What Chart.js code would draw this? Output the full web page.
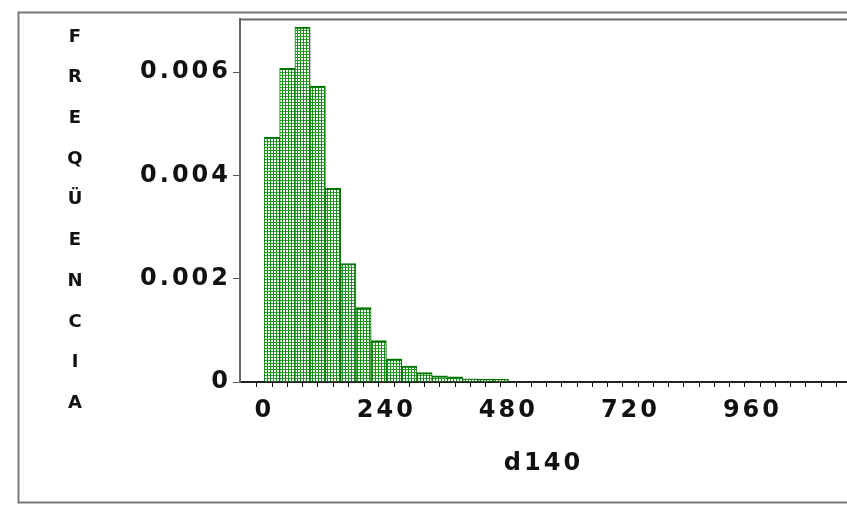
<!DOCTYPE html>
<html><head><meta charset="utf-8">
<script src="https://cdn.jsdelivr.net/npm/chart.js@4.4.1/dist/chart.umd.min.js"></script>
<style>html,body{margin:0;padding:0;background:#fff;overflow:hidden}#wrap{width:847px;height:505px;position:relative}</style>
</head><body><div id="wrap"><canvas id="c" width="847" height="505"></canvas></div>
<script>
// ---- data ----
const binStarts = [0,30,60,90,120,150,180,210,240,270,300,330,360,390,420,450];
const binWidth = 30;
const frequencies = [0.00474,0.00607,0.00687,0.00573,0.00375,0.00229,0.00144,0.00080,0.00045,0.00031,0.00018,0.00012,0.00010,0.00006,0.00005,0.00005];
const xTickLabels = [0,240,480,720,960];
const yTickLabels = [0,0.002,0.004,0.006];
const xTitle = 'd140';
const yTitle = 'FREQÜENCIA';

const ctx = document.getElementById('c').getContext('2d');

function makePattern(c){
  const p = document.createElement('canvas'); p.width = 3; p.height = 3;
  const g = p.getContext('2d');
  g.fillStyle = '#ffffff'; g.fillRect(0,0,3,3);
  g.fillStyle = '#168c16'; g.fillRect(0,0,1,3);
  g.fillStyle = '#2f9e2f'; g.fillRect(1,0,2,1);
  return c.createPattern(p,'repeat');
}

const fontMain = {family:'"DejaVu Sans", sans-serif', size:24, weight:'bold'};

const spacingPlugin = {
  id:'spacing',
  beforeLayout(chart){ chart.ctx.letterSpacing = '3px'; },
  beforeDraw(chart){ chart.ctx.letterSpacing = '3px'; },
};

const framePlugin = {
  id:'frame',
  beforeDraw(chart){
    const c = chart.ctx, a = chart.chartArea;
    c.save();
    c.fillStyle = '#fff'; c.fillRect(0,0,chart.width,chart.height);
    c.strokeStyle = '#7a7a7a'; c.lineWidth = 2;
    c.beginPath();
    c.moveTo(chart.width+10, 12.5); c.lineTo(18.5, 12.5); c.lineTo(18.5, 502.5); c.lineTo(chart.width+10, 502.5);
    c.stroke();
    c.strokeStyle = '#6a6a6a';
    c.beginPath(); c.moveTo(a.left, a.top+0.5); c.lineTo(a.right+10, a.top+0.5); c.stroke();
    c.restore();
  },
  afterDraw(chart){
    const c = chart.ctx;
    c.save();
    c.letterSpacing = '0px';
    c.fillStyle = '#111';
    c.font = 'bold 18px "DejaVu Sans", sans-serif';
    c.textAlign = 'center'; c.textBaseline = 'middle';
    const letters = Array.from(yTitle);
    letters.forEach((ch,i)=>{ c.fillText(ch, 75, 37 + i*40.7); });
    c.restore();
  }
};

new Chart(ctx, {
  type:'bar',
  data:{
    datasets:[{
      data: binStarts.map((s,i)=>({x:s+binWidth/2, y:frequencies[i]})),
      backgroundColor: makePattern(ctx),
      borderColor:'#007400',
      borderWidth:{top:2,left:1,right:1,bottom:0},
      barPercentage:1, categoryPercentage:1
    }]
  },
  options:{
    responsive:false, animation:false, devicePixelRatio:1,
    layout:{padding:{top:19,left:0,right:0,bottom:0}},
    plugins:{legend:{display:false}, tooltip:{enabled:false}},
    scales:{
      x:{
        type:'linear', min:-48, max:1146, offset:false,
        afterBuildTicks(s){ const t=[]; for(let v=0; v<=s.max; v+=binWidth) t.push({value:v}); s.ticks=t; },
        afterFit(s){ s.height = 123; s.paddingRight = 0; s.paddingLeft = 0; },
        ticks:{autoSkip:false, maxRotation:0, padding:9, color:'#111', font:fontMain,
          callback:(v)=> xTickLabels.includes(v) ? String(v) : ''},
        grid:{display:true, drawOnChartArea:false, drawTicks:true, tickLength:5, color:'#111', lineWidth:1},
        border:{display:true, color:'#222', width:2},
        title:{display:true, text:xTitle, color:'#111', font:fontMain, padding:{top:0,bottom:27}}
      },
      y:{
        min:0, max:0.007026,
        afterBuildTicks(s){ s.ticks = yTickLabels.map(v=>({value:v})); },
        afterFit(s){ s.width = 240; s.paddingTop = 0; s.paddingBottom = 0; },
        ticks:{padding:2, color:'#111', font:fontMain,
          callback:(v)=> v===0 ? '0' : Number(v).toFixed(3)},
        grid:{display:true, drawOnChartArea:false, drawTicks:true, tickLength:7, color:'#555', lineWidth:1},
        border:{display:true, color:'#666', width:2}
      }
    }
  },
  plugins:[spacingPlugin, framePlugin]
});
</script></body></html>
